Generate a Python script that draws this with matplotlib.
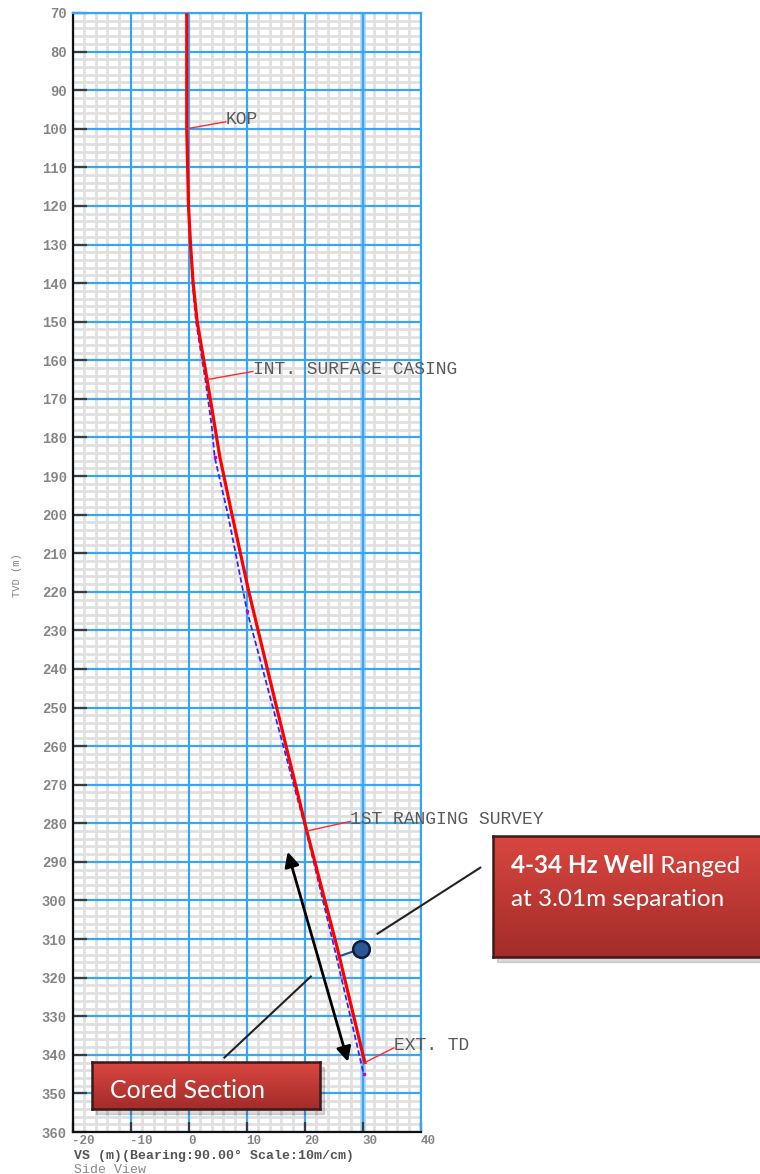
import numpy as np
import matplotlib.pyplot as plt
from matplotlib.colors import LinearSegmentedColormap
from matplotlib.patches import Rectangle

# planned well path (red) - TVD (m) vs vertical section (m)
plan_tvd = [70, 100, 120, 130, 140, 150, 165, 175, 185, 200, 220, 250, 282, 312, 342]
plan_vs = [-0.3, -0.3, 0.0, 0.35, 0.8, 1.5, 3.2, 4.3, 5.4, 7.5, 10.4, 15.2, 20.4, 25.6, 30.4]

# actual survey path (blue dashed)
survey_tvd = [70, 100, 120, 140, 150, 165, 177, 185, 200, 225, 248, 282, 312, 330, 345]
survey_vs = [-0.3, -0.3, 0.0, 0.7, 1.3, 2.9, 4.0, 4.5, 6.8, 10.1, 14.2, 20.3, 25.1, 27.9, 30.2]

# survey stations marked on the actual path
station_tvd = [185, 225, 345]
station_vs = [4.5, 10.1, 30.2]

# labelled points on the plan
marker_names = ['KOP', 'INT. SURFACE CASING', '1ST RANGING SURVEY', 'EXT. TD']
marker_tvd = [100, 165, 282, 342]

# ranged well and cored interval
ranged_vs, ranged_tvd = 29.8, 312.7
cored_top, cored_base = 287.4, 341.8

xticks = list(range(-20, 41, 10))
yticks = list(range(70, 361, 10))

mono = 'Liberation Mono'
box_font = 'Lato'

fig = plt.figure(figsize=(7.6, 11.74), dpi=100)
ax = fig.add_axes([72.5 / 760, 1 - 1132 / 1174, 348 / 760, 1119 / 1174])

ax.set_xlim(-20, 40)
ax.set_ylim(360, 70)

# graph paper: grey every 2 m, blue every 10 m
for v in range(-20, 41, 2):
    if v % 10:
        ax.axvline(v, color='#e0e0e0', lw=2.0, zorder=0.1)
for v in range(70, 361, 2):
    if v % 10:
        ax.axhline(v, color='#e0e0e0', lw=2.0, zorder=0.1)
ax.axvline(30, color='#a8d4f6', lw=4.0, zorder=0.2)
for v in xticks:
    ax.axvline(v, color='#3aa6f2', lw=1.6, zorder=0.3)
for v in yticks:
    ax.axhline(v, color='#3aa6f2', lw=1.6, zorder=0.3)

ax.set_xticks(xticks)
ax.set_xticklabels([str(v) for v in xticks], ha='left', family=mono,
                   fontsize=9, fontweight='bold', color='#858585')
ax.set_yticks(yticks)
ax.set_yticklabels([str(v) for v in yticks], family=mono,
                   fontsize=10, fontweight='bold', color='#858585')
ax.tick_params(axis='y', direction='in', length=10, width=1.6,
               color='#3c3c3c', pad=4)
ax.tick_params(axis='x', direction='in', length=7, width=1.6,
               color='#3c3c3c', pad=2)

for side in ['left', 'bottom']:
    ax.spines[side].set_color('#111111')
    ax.spines[side].set_linewidth(1.6)
for side in ['top', 'right']:
    ax.spines[side].set_color('#3aa6f2')
    ax.spines[side].set_linewidth(1.6)

# well paths
ax.plot(survey_vs, survey_tvd, color='#2a2aff', lw=1.3, ls=(0, (3, 1.5)), zorder=3)
ax.plot(station_vs, station_tvd, ls='none', marker='s', ms=2, color='#cc00cc', zorder=3)
ax.plot(plan_vs, plan_tvd, color='#ff0000', lw=2.3, zorder=4)

# point labels with red leaders
offsets = [(6.7, -1.8), (7.9, -2.1), (7.5, -2.5), (5.0, -3.8)]
for name, tvd, (dx, dy) in zip(marker_names, marker_tvd, offsets):
    vs = np.interp(tvd, plan_tvd, plan_vs)
    ax.plot([vs, vs + dx], [tvd, tvd + dy], color='#ff2a2a', lw=1.0, zorder=4)
    ax.text(vs + dx, tvd + dy - 0.5, name, family=mono, fontsize=13,
            color='#5a5a5a', ha='left', va='center', zorder=5)

# cored interval arrow
ax.annotate('', xy=(17.1, cored_top), xytext=(27.5, cored_base),
            arrowprops=dict(arrowstyle='<|-|>', color='black', lw=2.0,
                            mutation_scale=22, shrinkA=0, shrinkB=0), zorder=5)
ax.plot([6.2, 21.1], [340.7, 319.7], color='#222222', lw=1.5, zorder=5)

# ranged well marker
ax.plot([ranged_vs - 1.4, 26.3], [ranged_tvd + 0.5, 314.3], color='#1f4e8c', lw=1.5, zorder=5)
ax.plot(ranged_vs, ranged_tvd, 'o', ms=12, mfc='#2b5797', mec='#0d1f3a', mew=1.8, zorder=6)
ax.plot([32.6, 50.3], [308.6, 291.5], color='#222222', lw=1.5, zorder=5, clip_on=False)

fig.text(17 / 760, 1 - 575 / 1174, 'TVD (m)', rotation=90, ha='center', va='center',
         family=mono, fontsize=7.5, color='#808080')
fig.text(74 / 760, 1 - 1156 / 1174, 'VS (m)(Bearing:90.00\u00b0 Scale:10m/cm)',
         ha='left', va='center', family=mono, fontsize=9.5, fontweight='bold', color='#555555')
fig.text(74 / 760, 1 - 1170 / 1174, 'Side View', ha='left', va='center',
         family=mono, fontsize=9.5, color='#8a8a8a')

box_cmap = LinearSegmentedColormap.from_list('box', ['#da4640', '#a32c29'])


def red_box(left, top, right, bottom):
    rect = [left / 760, 1 - bottom / 1174, (right - left) / 760, (bottom - top) / 1174]
    shadow = Rectangle((rect[0] + 4 / 760, rect[1] - 5 / 1174), rect[2], rect[3],
                       transform=fig.transFigure, color='#000000', alpha=0.15, zorder=1.5)
    fig.add_artist(shadow)
    bax = fig.add_axes(rect, zorder=2)
    bax.imshow(np.linspace(0, 1, 64).reshape(-1, 1), aspect='auto', cmap=box_cmap,
               extent=[0, 1, 0, 1], origin='upper')
    bax.set_xticks([])
    bax.set_yticks([])
    for s in bax.spines.values():
        s.set_color('#3a1a1a')
        s.set_linewidth(1.8)
    return bax


cbox = red_box(92, 1062, 320, 1109)
cbox.text(0.079, 0.23, 'Cored Section', transform=cbox.transAxes, family=box_font,
          fontsize=18, color='white', ha='left', va='baseline')

rbox = red_box(492.7, 836, 770, 957)
t1 = rbox.text(0.067, 0.697, '4-34 Hz Well', transform=rbox.transAxes, family=box_font,
               fontsize=17.5, fontweight='bold', color='white', ha='left', va='baseline')
rbox.annotate(' Ranged', xy=(1, 0), xycoords=t1, family=box_font, fontsize=17.5,
              color='white', ha='left', va='bottom')
rbox.text(0.067, 0.424, 'at 3.01m separation', transform=rbox.transAxes, family=box_font,
          fontsize=17.5, color='white', ha='left', va='baseline')

fig.savefig('out.png', dpi=100)
